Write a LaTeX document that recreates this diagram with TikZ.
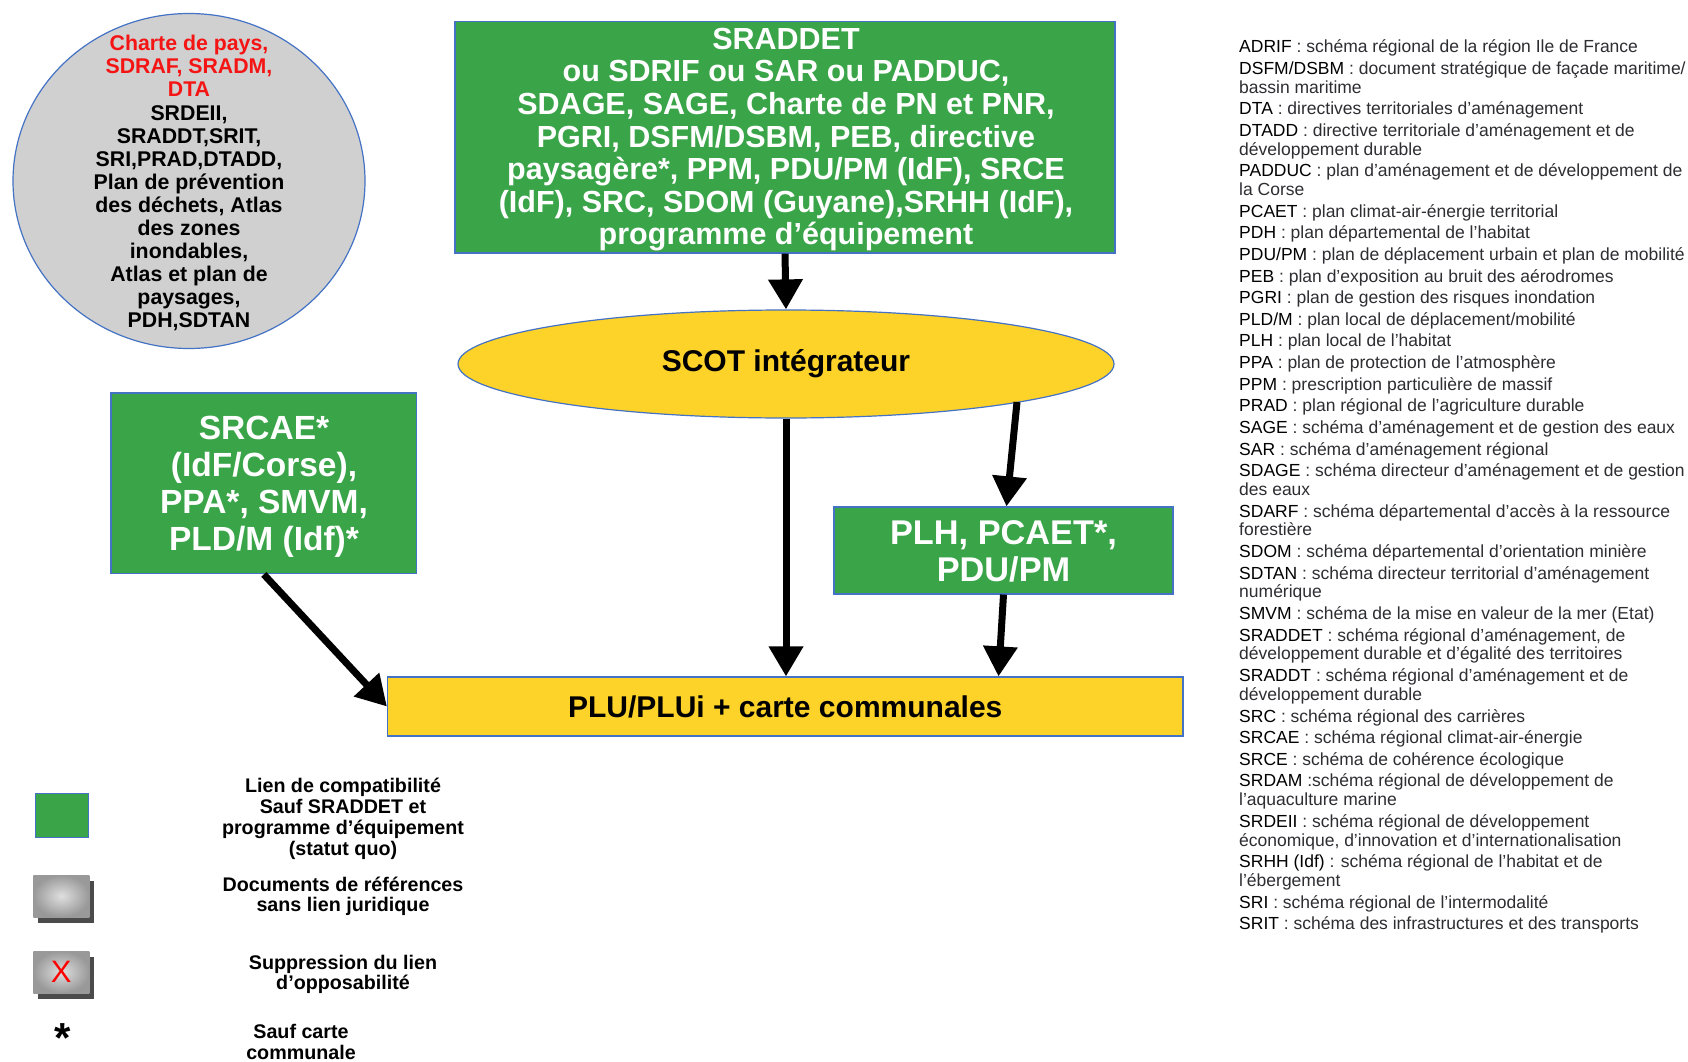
\documentclass[tikz,border=0pt]{standalone}
\usepackage{fontspec}
\setmainfont{Liberation Sans}
\usetikzlibrary{arrows.meta,calc,shapes.geometric}
\definecolor{boxgreen}{RGB}{58,164,73}
\definecolor{boxblue}{RGB}{68,114,196}
\definecolor{scotyellow}{RGB}{253,210,41}
\definecolor{circgray}{RGB}{208,208,208}
\definecolor{descgray}{RGB}{45,45,50}
\definecolor{redtxt}{RGB}{245,20,20}
\definecolor{shadowgray}{RGB}{75,75,75}
\newcommand{\glent}[4]{\node[glnode] (#1) at (1239,#2) {\textcolor{black}{#3}#4};}
\newcommand{\glcont}[3]{\node[glnode] (#1) at (1239,#2) {#3};}
\begin{document}
\begin{tikzpicture}[x=1pt,y=-1pt,
  greenbox/.style={draw=boxblue,line width=1.2pt,fill=boxgreen,inner sep=0pt},
  whitetxt/.style={text=white,align=center,inner sep=0pt},
  yellowbox/.style={draw=boxblue,line width=1.2pt,fill=scotyellow,inner sep=0pt,font=\bfseries\fontsize{30}{32}\selectfont},
  bigarrow/.style={line width=7pt,-{Triangle[width=33pt,length=30pt]}},
  glnode/.style={anchor=base west,inner sep=0pt,text=descgray,font=\fontsize{17.5}{18.8}\selectfont},
  legtext/.style={align=center,inner sep=0pt},
  legbox/.style={minimum width=56pt,minimum height=42pt,inner sep=0pt}
]
\useasboundingbox (0,0) rectangle (1688,1062);
\fill[white] (0,0) rectangle (1688,1062);

% circle of reference documents
\node[ellipse,draw=boxblue,line width=1.2pt,fill=circgray,minimum width=352pt,minimum height=335pt,inner sep=0pt] (circ) at (189,181) {};
\node[align=center,inner sep=0pt,font=\bfseries\fontsize{21.3}{23.1}\selectfont] (circtxt) at (189,183.3)
 {\textcolor{redtxt}{Charte de pays,}\\\textcolor{redtxt}{SDRAF, SRADM,}\\\textcolor{redtxt}{DTA}\\SRDEII,\\SRADDT,SRIT,\\SRI,PRAD,DTADD,\\Plan de prévention\\des déchets, Atlas\\des zones\\inondables,\\Atlas et plan de\\paysages,\\PDH,SDTAN};

% SRADDET box
\node[greenbox,minimum width=660pt,minimum height=231.5pt] (sraddet) at (785,137.25) {};
\node[whitetxt,font=\bfseries\fontsize{30.5}{32.65}\selectfont] (sraddettxt) at (786,139.6)
 {SRADDET\\ou SDRIF ou SAR ou PADDUC,\\SDAGE, SAGE, Charte de PN et PNR,\\PGRI, DSFM/DSBM, PEB, directive\\paysagère*, PPM, PDU/PM (IdF), SRCE\\(IdF), SRC, SDOM (Guyane),SRHH (IdF),\\programme d’équipement};

% SCOT
\node[ellipse,yellowbox,minimum width=656pt,minimum height=108pt] (scot) at (786,364) {SCOT intégrateur};

% SRCAE box
\node[greenbox,minimum width=305.6pt,minimum height=180.8pt] (srcae) at (263.8,483.4) {};
\node[whitetxt,font=\bfseries\fontsize{33.5}{37}\selectfont] (srcaetxt) at (264,487.2)
 {SRCAE*\\(IdF/Corse),\\PPA*, SMVM,\\PLD/M (Idf)*};

% PLH box
\node[greenbox,minimum width=339pt,minimum height=87pt] (plh) at (1003.5,550.5) {};
\node[whitetxt,font=\bfseries\fontsize{34.3}{36.5}\selectfont] (plhtxt) at (1003.5,551.3)
 {PLH, PCAET*,\\PDU/PM};

% PLU box
\node[yellowbox,minimum width=795.5pt,minimum height=59pt] (plu) at (785.25,706.5) {PLU/PLUi + carte communales};

% arrows
\draw[bigarrow] (sraddet.south) -- (scot.north);
\draw[bigarrow] (scot.south) -- (scot.south |- plu.north);
\coordinate (scotr) at (1017,402);
\draw[bigarrow] (scotr) -- ($(plh.north)+(3,0)$);
\draw[bigarrow] (plh.south) -- ($(plh.south |- plu.north)+(-5,0)$);
\draw[bigarrow] (srcae.south) -- (plu.west);

% legend
\node[greenbox,minimum width=53pt,minimum height=44pt] (lg1) at (62,815.5) {};
\node[legbox,fill=shadowgray] (lg2s) at (66.3,902) {};
\node[legbox,shading=radial,inner color=gray!25,outer color=gray!80] (lg2) at (61.3,896) {};
\node[legbox,fill=shadowgray] (lg3s) at (66.3,977.5) {};
\node[legbox,shading=radial,inner color=gray!25,outer color=gray!80] (lg3) at (61.3,972) {};
\node[inner sep=0pt,text=red,font=\fontsize{31}{31}\selectfont] (lg3x) at (61.3,972) {X};
\node[anchor=base,inner sep=0pt,font=\bfseries\fontsize{42}{42}\selectfont] (lg4) at (62.3,1052.5) {*};

\begin{scope}[font=\bfseries\fontsize{19.7}{21}\selectfont]
\node[legtext] (lt1) at (343,819.3) {Lien de compatibilité\\Sauf SRADDET et\\programme d’équipement\\(statut quo)};
\node[legtext,font=\bfseries\fontsize{19.7}{20}\selectfont] (lt2) at (343,895.9) {Documents de références\\sans lien juridique};
\node[legtext,font=\bfseries\fontsize{19.7}{20}\selectfont] (lt3) at (343,974.6) {Suppression du lien\\d’opposabilité};
\node[legtext,font=\bfseries\fontsize{19.7}{21}\selectfont] (lt4) at (301,1042) {Sauf carte\\communale};
\end{scope}

% glossary
\glent{g1}{52.7}{ADRIF}{ : schéma régional de la région Ile de France}
\glent{g2}{74.3}{DSFM/DSBM}{ : document stratégique de façade maritime/}
\glcont{g2b}{93.1}{bassin maritime}
\glent{g3}{114.7}{DTA}{ : directives territoriales d’aménagement}
\glent{g4}{136.4}{DTADD}{ : directive territoriale d’aménagement et de}
\glcont{g4b}{155.2}{développement durable}
\glent{g5}{176.8}{PADDUC}{ : plan d’aménagement et de développement de}
\glcont{g5b}{195.6}{la Corse}
\glent{g6}{217.2}{PCAET}{ : plan climat-air-énergie territorial}
\glent{g7}{238.8}{PDH}{ : plan départemental de l’habitat}
\glent{g8}{260.4}{PDU/PM}{ : plan de déplacement urbain et plan de mobilité}
\glent{g9}{282.1}{PEB}{ : plan d’exposition au bruit des aérodromes}
\glent{g10}{303.7}{PGRI}{ : plan de gestion des risques inondation}
\glent{g11}{325.3}{PLD/M}{ : plan local de déplacement/mobilité}
\glent{g12}{346.9}{PLH}{ : plan local de l’habitat}
\glent{g13}{368.5}{PPA}{ : plan de protection de l’atmosphère}
\glent{g14}{390.2}{PPM}{ : prescription particulière de massif}
\glent{g15}{411.8}{PRAD}{ : plan régional de l’agriculture durable}
\glent{g16}{433.4}{SAGE}{ : schéma d’aménagement et de gestion des eaux}
\glent{g17}{455}{SAR}{ : schéma d’aménagement régional}
\glent{g18}{476.6}{SDAGE}{ : schéma directeur d’aménagement et de gestion}
\glcont{g18b}{495.4}{des eaux}
\glent{g19}{517.1}{SDARF}{ : schéma départemental d’accès à la ressource}
\glcont{g19b}{535.9}{forestière}
\glent{g20}{557.5}{SDOM}{ : schéma départemental d’orientation minière}
\glent{g21}{579.1}{SDTAN}{ : schéma directeur territorial d’aménagement}
\glcont{g21b}{597.9}{numérique}
\glent{g22}{619.5}{SMVM}{ : schéma de la mise en valeur de la mer (Etat)}
\glent{g23}{641.1}{SRADDET}{ : schéma régional d’aménagement, de}
\glcont{g23b}{659.9}{développement durable et d’égalité des territoires}
\glent{g24}{681.6}{SRADDT}{ : schéma régional d’aménagement et de}
\glcont{g24b}{700.4}{développement durable}
\glent{g25}{722}{SRC}{ : schéma régional des carrières}
\glent{g26}{743.6}{SRCAE}{ : schéma régional climat-air-énergie}
\glent{g27}{765.2}{SRCE}{ : schéma de cohérence écologique}
\glent{g28}{786.8}{SRDAM}{ :schéma régional de développement de}
\glcont{g28b}{805.6}{l’aquaculture marine}
\glent{g29}{827.3}{SRDEII}{ : schéma régional de développement}
\glcont{g29b}{846.1}{économique, d’innovation et d’internationalisation}
\glent{g30}{867.7}{SRHH (Idf)}{ : schéma régional de l’habitat et de}
\glcont{g30b}{886.5}{l’ébergement}
\glent{g31}{908.1}{SRI}{ : schéma régional de l’intermodalité}
\glent{g32}{929.7}{SRIT}{ : schéma des infrastructures et des transports}
\end{tikzpicture}
\end{document}
